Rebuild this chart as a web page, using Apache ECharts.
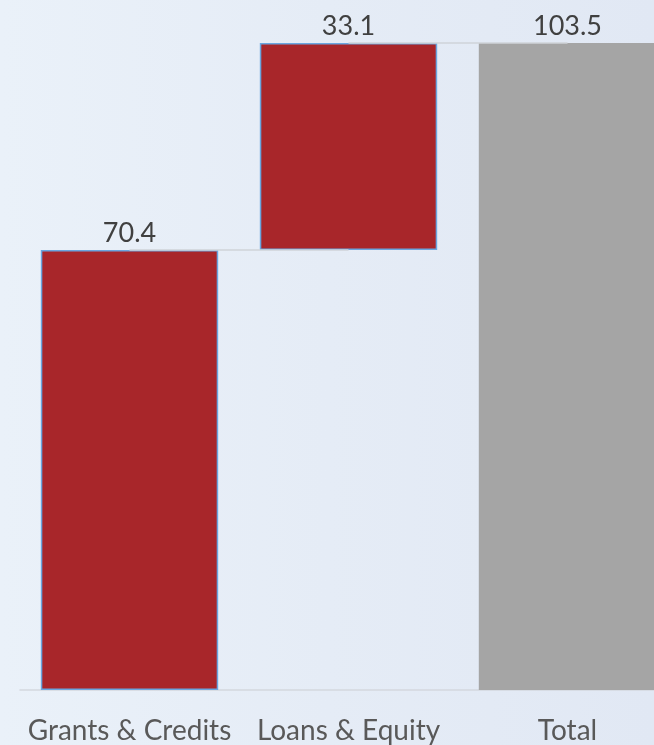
<!DOCTYPE html>
<html><head><meta charset="utf-8">
<script src="https://cdn.jsdelivr.net/npm/echarts@6/dist/echarts.min.js"></script>
<style>html,body{margin:0;padding:0;}#c{width:654px;height:745px;background:linear-gradient(90deg,#eaf1f9 0%,#e5ecf6 50%,#e1e8f4 100%);}</style>
</head><body><div id="c"></div>
<script>
const categories = ['Grants & Credits', 'Loans & Equity', 'Total'];
const increments = [70.4, 33.1, null];
const totals = [null, null, 103.5];
const bases = [0, 70.4, 0];

const chart = echarts.init(document.getElementById('c'));
const font = 'Lato';
const labelStyle = {show: true, position: 'top', distance: 3, color: '#404040', fontSize: 27, fontFamily: font};
const connectors = [];
for (let i = 0; i < categories.length - 1; i++) {
  const top = bases[i] + (increments[i] || 0);
  connectors.push([{coord: [i, top]}, {coord: [i + 1, top]}]);
}
chart.setOption({
  animation: false,
  grid: {left: 20, top: 43, bottom: 55, width: 657, containLabel: false, outerBoundsMode: 'none'},
  xAxis: {
    type: 'category', data: categories,
    axisTick: {show: false},
    axisLine: {lineStyle: {color: '#d4d8de', width: 1.5}},
    axisLabel: {color: '#595959', fontSize: 28, fontFamily: font, margin: 27, interval: 0}
  },
  yAxis: {type: 'value', min: 0, max: 103.5, show: false, splitLine: {show: false}},
  series: [
    {type: 'line', data: [], z: 1, symbol: 'none',
     markLine: {symbol: 'none', silent: true, label: {show: false},
       lineStyle: {color: '#cfd3d8', width: 1.5, type: 'solid'}, data: connectors}},
    {type: 'bar', stack: 'w', data: bases, z: 2, barCategoryGap: '19%',
     itemStyle: {color: 'transparent'}},
    {type: 'bar', stack: 'w', data: increments, z: 3,
     itemStyle: {color: '#a8262a', borderColor: '#6aa6e0', borderWidth: 1.5},
     label: labelStyle},
    {type: 'bar', stack: 'w', data: totals, z: 3,
     itemStyle: {color: '#a5a5a5'},
     label: labelStyle}
  ]
});
</script></body></html>
